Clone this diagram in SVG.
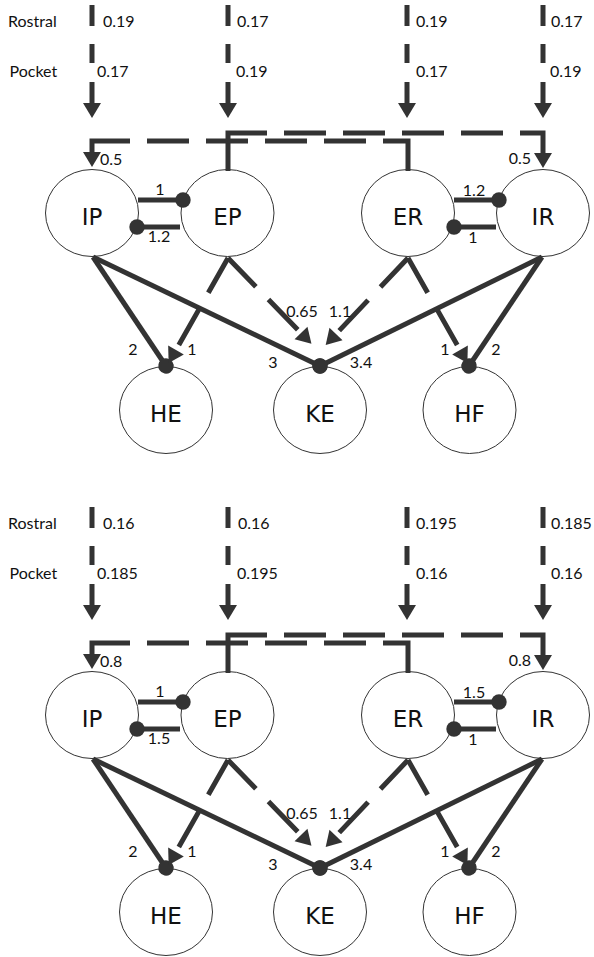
<svg xmlns="http://www.w3.org/2000/svg" width="594" height="957" viewBox="0 0 594 957">
<style>
.node{fill:#fff;stroke:#333;stroke-width:1}
.nl{font-family:"DejaVu Sans",sans-serif;font-size:23px;fill:#111;text-anchor:middle}
.lbl{font-family:Lato,"Liberation Sans",sans-serif;font-size:16px;fill:#111}
.c{text-anchor:middle}
.e{text-anchor:end}
.ln{fill:none;stroke:#333;stroke-width:5}
.in{stroke-dasharray:21 18 19 19 21 100}
.diag1{stroke-dasharray:40 17 43 30}
.diag2{stroke-dasharray:40 18 42 30}
.up{stroke-dasharray:77 17 42 17 42 17 42 17 42 17 100}
.lo{stroke-dasharray:55 17 42 17 42 17 42 17 42 17 100}
.arr{marker-end:url(#arrow)}
.dot{marker-end:url(#dot)}
</style>
<defs>
<marker id="arrow" markerUnits="userSpaceOnUse" viewBox="0 -10 20 20" markerWidth="20" markerHeight="20" refX="0" refY="0" orient="auto" overflow="visible">
<path d="M0,-9 L15,0 L0,9 Z" fill="#333"/>
</marker>
<marker id="dot" markerUnits="userSpaceOnUse" viewBox="-10 -10 20 20" markerWidth="20" markerHeight="20" refX="0" refY="0" orient="auto" overflow="visible">
<circle cx="0" cy="0" r="7.7" fill="#333"/>
</marker>
<g id="connectors">
<path class="ln in arr" d="M92,5 V103"/>
<path class="ln in arr" d="M228,5 V103"/>
<path class="ln in arr" d="M407,5 V103"/>
<path class="ln in arr" d="M543,5 V103"/>
<path class="ln up arr" d="M228,171 V133 H543 V153"/>
<path class="ln lo arr" d="M408,171 V141 H92 V152"/>
<path class="ln dot" d="M138,200 H183"/>
<path class="ln dot" d="M180,227 H137"/>
<path class="ln dot" d="M454,200 H499"/>
<path class="ln dot" d="M496,227 H454"/>
<path class="ln dot" d="M93,257 L166,366"/>
<path class="ln dot" d="M93,257 L320,366"/>
<path class="ln dot" d="M542,257 L320,366"/>
<path class="ln dot" d="M542,257 L469,366"/>
<path class="ln diag1 arr" d="M228,258 L176,350"/>
<path class="ln diag2 arr" d="M228,258 L301,333"/>
<path class="ln diag2 arr" d="M408,258 L336,334"/>
<path class="ln diag1 arr" d="M408,258 L460,350"/>
</g>
</defs>

<g id="top-panel">
<g id="top-IP"><ellipse class="node" cx="92" cy="213" rx="46.5" ry="43.5"/><text class="nl" x="92" y="224.5">IP</text></g>
<g id="top-EP"><ellipse class="node" cx="227.5" cy="213" rx="46.5" ry="43.5"/><text class="nl" x="227.5" y="224.5">EP</text></g>
<g id="top-ER"><ellipse class="node" cx="408" cy="213" rx="46.5" ry="43.5"/><text class="nl" x="408" y="224.5">ER</text></g>
<g id="top-IR"><ellipse class="node" cx="543" cy="213" rx="46.5" ry="43.5"/><text class="nl" x="543" y="224.5">IR</text></g>
<g id="top-HE"><ellipse class="node" cx="166" cy="410" rx="46.5" ry="43.5"/><text class="nl" x="166" y="421.5">HE</text></g>
<g id="top-KE"><ellipse class="node" cx="320" cy="410" rx="46.5" ry="43.5"/><text class="nl" x="320" y="421.5">KE</text></g>
<g id="top-HF"><ellipse class="node" cx="469.5" cy="410" rx="46.5" ry="43.5"/><text class="nl" x="469.5" y="421.5">HF</text></g>
<use id="top-connectors" href="#connectors"/>
<g id="top-labels">
<text class="lbl" x="8" y="27">Rostral</text>
<text class="lbl" x="9.5" y="77">Pocket</text>
<text class="lbl" x="103" y="27">0.19</text>
<text class="lbl" x="97" y="77">0.17</text>
<text class="lbl" x="237" y="27">0.17</text>
<text class="lbl" x="236" y="77">0.19</text>
<text class="lbl" x="416" y="27">0.19</text>
<text class="lbl" x="416" y="77">0.17</text>
<text class="lbl" x="551" y="27">0.17</text>
<text class="lbl" x="550" y="77">0.19</text>
<text class="lbl" x="100" y="165">0.5</text>
<text class="lbl e" x="531" y="164">0.5</text>
<text class="lbl c" x="160" y="195">1</text>
<text class="lbl c" x="159" y="242">1.2</text>
<text class="lbl c" x="474" y="196">1.2</text>
<text class="lbl c" x="473" y="243">1</text>
<text class="lbl c" x="133" y="355">2</text>
<text class="lbl c" x="192" y="355">1</text>
<text class="lbl c" x="273" y="368">3</text>
<text class="lbl c" x="302" y="317">0.65</text>
<text class="lbl c" x="340" y="317">1.1</text>
<text class="lbl c" x="361" y="368">3.4</text>
<text class="lbl c" x="445" y="355">1</text>
<text class="lbl c" x="496" y="355">2</text>
</g>
</g>

<g id="bottom-panel" transform="translate(0,502)">
<g id="bottom-IP"><ellipse class="node" cx="92" cy="213" rx="46.5" ry="43.5"/><text class="nl" x="92" y="224.5">IP</text></g>
<g id="bottom-EP"><ellipse class="node" cx="227.5" cy="213" rx="46.5" ry="43.5"/><text class="nl" x="227.5" y="224.5">EP</text></g>
<g id="bottom-ER"><ellipse class="node" cx="408" cy="213" rx="46.5" ry="43.5"/><text class="nl" x="408" y="224.5">ER</text></g>
<g id="bottom-IR"><ellipse class="node" cx="543" cy="213" rx="46.5" ry="43.5"/><text class="nl" x="543" y="224.5">IR</text></g>
<g id="bottom-HE"><ellipse class="node" cx="166" cy="410" rx="46.5" ry="43.5"/><text class="nl" x="166" y="421.5">HE</text></g>
<g id="bottom-KE"><ellipse class="node" cx="320" cy="410" rx="46.5" ry="43.5"/><text class="nl" x="320" y="421.5">KE</text></g>
<g id="bottom-HF"><ellipse class="node" cx="469.5" cy="410" rx="46.5" ry="43.5"/><text class="nl" x="469.5" y="421.5">HF</text></g>
<use id="bottom-connectors" href="#connectors"/>
<g id="bottom-labels">
<text class="lbl" x="8" y="27">Rostral</text>
<text class="lbl" x="9.5" y="77">Pocket</text>
<text class="lbl" x="103" y="27">0.16</text>
<text class="lbl" x="97" y="77">0.185</text>
<text class="lbl" x="238" y="27">0.16</text>
<text class="lbl" x="237" y="77">0.195</text>
<text class="lbl" x="416" y="27">0.195</text>
<text class="lbl" x="416" y="77">0.16</text>
<text class="lbl" x="551" y="27">0.185</text>
<text class="lbl" x="551" y="77">0.16</text>
<text class="lbl" x="100" y="165">0.8</text>
<text class="lbl e" x="531" y="164">0.8</text>
<text class="lbl c" x="160" y="195">1</text>
<text class="lbl c" x="159" y="242">1.5</text>
<text class="lbl c" x="474" y="196">1.5</text>
<text class="lbl c" x="473" y="243">1</text>
<text class="lbl c" x="133" y="355">2</text>
<text class="lbl c" x="192" y="355">1</text>
<text class="lbl c" x="273" y="368">3</text>
<text class="lbl c" x="302" y="317">0.65</text>
<text class="lbl c" x="340" y="317">1.1</text>
<text class="lbl c" x="361" y="368">3.4</text>
<text class="lbl c" x="445" y="355">1</text>
<text class="lbl c" x="496" y="355">2</text>
</g>
</g>
</svg>
